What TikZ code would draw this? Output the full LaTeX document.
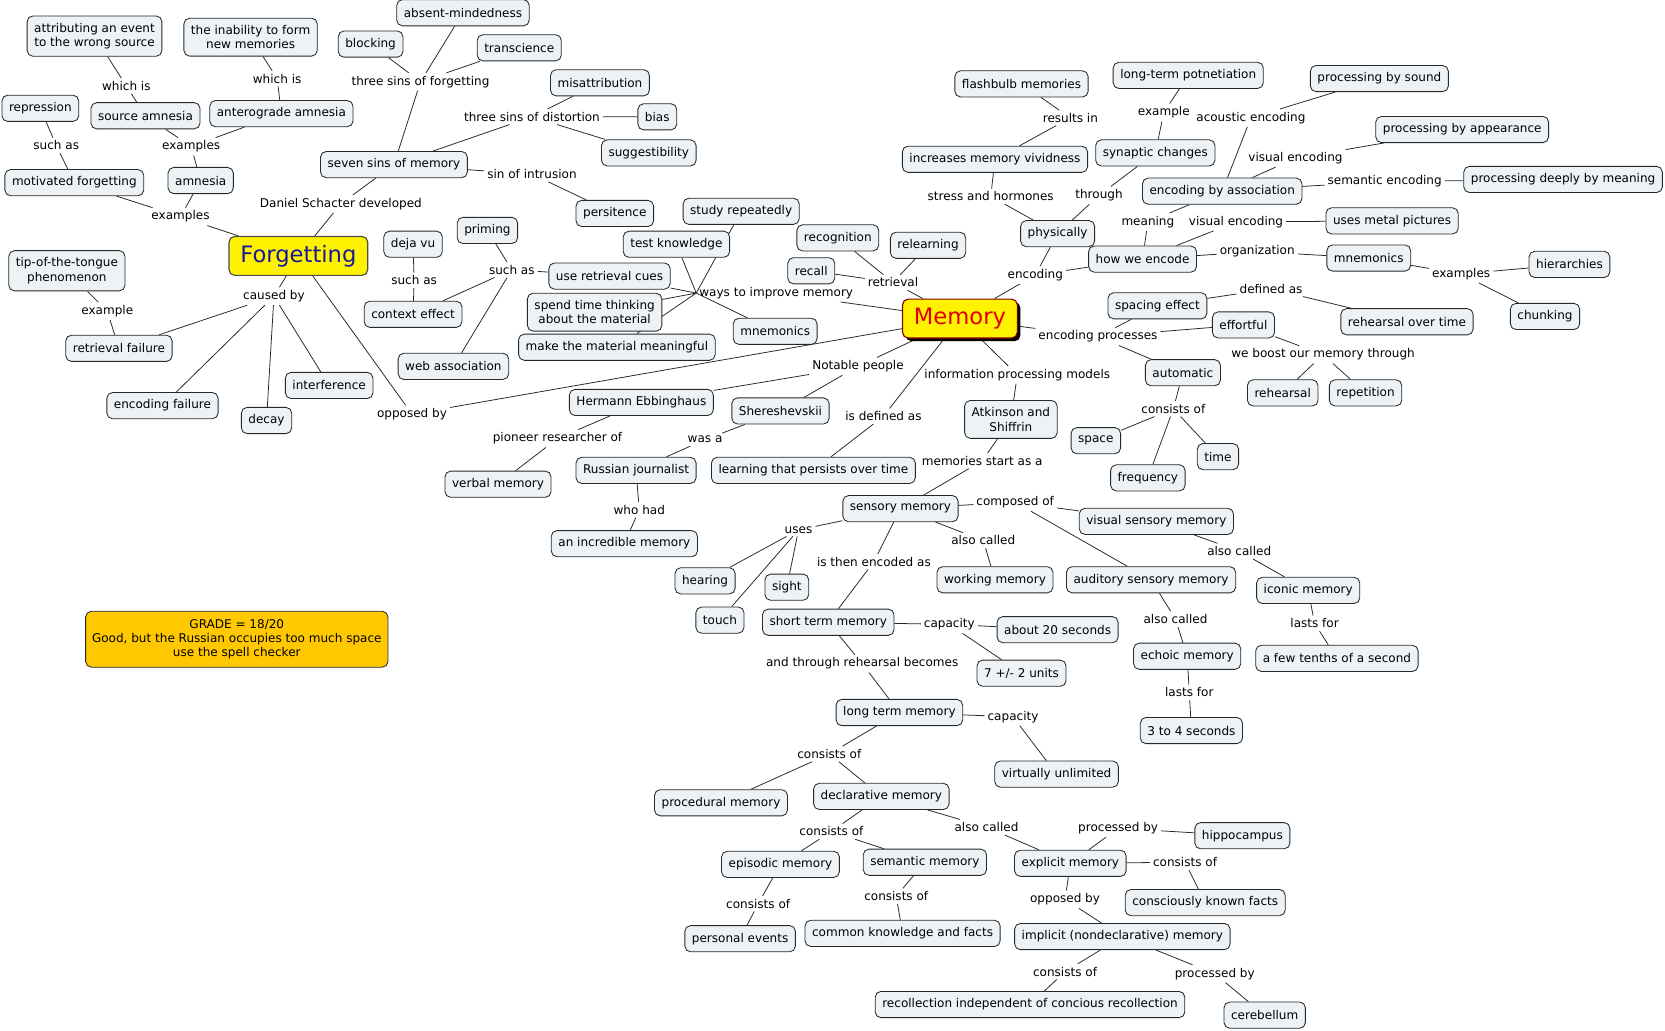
\documentclass[tikz,border=0pt]{standalone}
\usepackage{fontspec}
\setmainfont{DejaVu Sans}
\usetikzlibrary{backgrounds,shadows}

\definecolor{cmapfill}{RGB}{236,242,245}
\definecolor{cmapline}{RGB}{40,40,40}
\definecolor{memred}{RGB}{225,0,0}
\definecolor{memborder}{RGB}{130,0,0}
\definecolor{forgetblue}{RGB}{25,25,150}
\definecolor{gradefill}{RGB}{255,200,0}

\begin{document}
\begin{tikzpicture}[
    x=0.75pt, y=-0.75pt,
    concept/.style={rectangle, draw=cmapline, fill=cmapfill, rounded corners=4pt, line width=0.6pt, inner xsep=5pt, inner ysep=3pt, minimum height=18.5pt, align=center, font=\fontsize{8.5}{10.2}\selectfont},
    twoline/.style={concept, inner ysep=5pt},
    phrase/.style={inner sep=2pt, font=\fontsize{8.5}{10.2}\selectfont},
    topic/.style={rectangle, fill=yellow, rounded corners=4pt, line width=0.8pt, inner xsep=8pt, minimum height=27.5pt, font=\fontsize{16}{18}\selectfont},
    grade/.style={rectangle, draw=cmapline, fill=gradefill, rounded corners=4pt, line width=0.6pt, inner xsep=4.5pt, inner ysep=5.5pt, align=center, font=\fontsize{8.5}{10.2}\selectfont},
    link/.style={draw=cmapline, line width=0.55pt}
]
    \useasboundingbox (0,0) rectangle (1568,970);

    % Main topics
    \node[topic, draw=black!70, text=forgetblue] (forgetting) at (281,241) {Forgetting};
    \node[topic, draw=memborder, text=memred, drop shadow={shadow xshift=2.2pt, shadow yshift=-2.2pt, fill=black, opacity=1}] (memory) at (904,300) {Memory};

    % Forgetting side
    \node[twoline] (attrib) at (89,34) {attributing an event\\to the wrong source};
    \node[twoline] (inability) at (236,35) {the inability to form\\new memories};
    \node[concept] (absent) at (436,12) {absent-mindedness};
    \node[concept] (blocking) at (349,41.5) {blocking};
    \node[concept] (transcience) at (489,45) {transcience};
    \node[concept] (repression) at (38,102) {repression};
    \node[concept] (sourceam) at (137,109) {source amnesia};
    \node[concept] (anterograde) at (265,107) {anterograde amnesia};
    \node[concept] (misattribution) at (565,78) {misattribution};
    \node[concept] (bias) at (619,110) {bias};
    \node[concept] (suggestibility) at (611,144) {suggestibility};
    \node[concept] (seven) at (371,155) {seven sins of memory};
    \node[concept] (motivated) at (70,172) {motivated forgetting};
    \node[concept] (amnesia) at (189,170) {amnesia};
    \node[concept] (persitence) at (579,201) {persitence};
    \node[concept] (dejavu) at (389,230) {deja vu};
    \node[concept] (priming) at (459,217) {priming};
    \node[twoline] (tot) at (63,255) {tip-of-the-tongue\\phenomenon};
    \node[concept] (context) at (389,296) {context effect};
    \node[concept] (retrfail) at (112,328) {retrieval failure};
    \node[concept] (webassoc) at (427,345) {web association};
    \node[concept] (interference) at (310,363) {interference};
    \node[concept] (encfail) at (153,382) {encoding failure};
    \node[concept] (decay) at (251,396) {decay};
    \node[concept] (verbal) at (469,456) {verbal memory};
    \node[grade] (grade) at (223,602) {GRADE = 18/20\\Good, but the Russian occupies too much space\\use the spell checker};

    % Ways to improve memory, retrieval
    \node[concept] (studyrep) at (698,199) {study repeatedly};
    \node[concept] (testknow) at (637,230) {test knowledge};
    \node[concept] (useretr) at (574,260) {use retrieval cues};
    \node[twoline] (spend) at (560,294) {spend time thinking\\about the material};
    \node[concept] (makemean) at (581,327) {make the material meaningful};
    \node[concept] (mnemonicsA) at (730,312) {mnemonics};
    \node[concept] (recognition) at (789,224) {recognition};
    \node[concept] (relearning) at (874,231) {relearning};
    \node[concept] (recall) at (764,255) {recall};

    % Encoding side
    \node[concept] (flashbulb) at (962,79) {flashbulb memories};
    \node[concept] (ltp) at (1119,71) {long-term potnetiation};
    \node[concept] (procsound) at (1299,74) {processing by sound};
    \node[concept] (procapp) at (1377,122) {processing by appearance};
    \node[concept] (increases) at (937,150) {increases memory vividness};
    \node[concept] (synaptic) at (1088,144) {synaptic changes};
    \node[concept] (encassoc) at (1151,180) {encoding by association};
    \node[concept] (procdeep) at (1472,169) {processing deeply by meaning};
    \node[concept] (physically) at (996,220) {physically};
    \node[concept] (usesmetal) at (1311,208) {uses metal pictures};
    \node[concept] (howenc) at (1076,244) {how we encode};
    \node[concept] (mnemonicsB) at (1289,243) {mnemonics};
    \node[concept] (hierarchies) at (1478,249) {hierarchies};
    \node[concept] (spacing) at (1090,288) {spacing effect};
    \node[concept] (effortful) at (1171,306) {effortful};
    \node[concept] (rehearsalot) at (1325,303) {rehearsal over time};
    \node[concept] (chunking) at (1455,298) {chunking};
    \node[concept] (automatic) at (1114,351) {automatic};
    \node[concept] (rehearsal) at (1208,370) {rehearsal};
    \node[concept] (repetition) at (1286,370) {repetition};
    \node[concept] (space) at (1032,415) {space};
    \node[concept] (time) at (1147,430) {time};
    \node[concept] (frequency) at (1081,450) {frequency};

    % People, models, stores
    \node[concept] (hermann) at (604,379) {Hermann Ebbinghaus};
    \node[concept] (shereshevskii) at (735,387) {Shereshevskii};
    \node[twoline] (atkinson) at (952,395) {Atkinson and\\Shiffrin};
    \node[concept] (russian) at (599,443) {Russian journalist};
    \node[concept] (learning) at (766,443) {learning that persists over time};
    \node[concept] (incredible) at (588,512) {an incredible memory};
    \node[concept] (sensory) at (848,479) {sensory memory};
    \node[concept] (visualsens) at (1089,491) {visual sensory memory};
    \node[concept] (auditory) at (1084,546) {auditory sensory memory};
    \node[concept] (iconic) at (1232,556) {iconic memory};
    \node[concept] (working) at (937,546) {working memory};
    \node[concept] (hearing) at (664,547) {hearing};
    \node[concept] (sight) at (741,553) {sight};
    \node[concept] (touch) at (678,584) {touch};
    \node[concept] (shortterm) at (780,586) {short term memory};
    \node[concept] (about20) at (996,593) {about 20 seconds};
    \node[concept] (sevenunits) at (962,634) {7 +/- 2 units};
    \node[concept] (echoic) at (1118,618) {echoic memory};
    \node[concept] (fewtenths) at (1259,620) {a few tenths of a second};
    \node[concept] (longterm) at (847,671) {long term memory};
    \node[concept] (threefour) at (1122,688) {3 to 4 seconds};
    \node[concept] (virtually) at (995,729) {virtually unlimited};
    \node[concept] (procedural) at (679,756) {procedural memory};
    \node[concept] (declarative) at (830,750) {declarative memory};
    \node[concept] (hippocampus) at (1170,787) {hippocampus};
    \node[concept] (episodic) at (735,814) {episodic memory};
    \node[concept] (semantic) at (871,812) {semantic memory};
    \node[concept] (explicit) at (1008,813) {explicit memory};
    \node[concept] (conscious) at (1135,850) {consciously known facts};
    \node[concept] (personal) at (697,884) {personal events};
    \node[concept] (common) at (850,879) {common knowledge and facts};
    \node[concept] (implicit) at (1057,882) {implicit (nondeclarative) memory};
    \node[concept] (recollection) at (970,946) {recollection independent of concious recollection};
    \node[concept] (cerebellum) at (1191,956) {cerebellum};

    % Linking phrases
    \node[phrase] (lwhichA) at (119,81) {which is};
    \node[phrase] (lwhichB) at (261,74) {which is};
    \node[phrase] (lsinsforget) at (396,77) {three sins of forgetting};
    \node[phrase] (lsinsdistort) at (501,110) {three sins of distortion};
    \node[phrase] (lsuchasA) at (53,137) {such as};
    \node[phrase] (lexamplesA) at (180,138) {examples};
    \node[phrase] (lexamplesB) at (170,204) {examples};
    \node[phrase] (ldaniel) at (321,192) {Daniel Schacter developed};
    \node[phrase] (lintrusion) at (501,164) {sin of intrusion};
    \node[phrase] (lcaused) at (258,279) {caused by};
    \node[phrase] (lexampleA) at (101,293) {example};
    \node[phrase] (lsuchasB) at (390,264) {such as};
    \node[phrase] (lsuchasC) at (482,254) {such as};
    \node[phrase] (lopposedA) at (388,390) {opposed by};
    \node[phrase] (lpioneer) at (525,413) {pioneer researcher of};
    \node[phrase] (lways) at (731,276) {ways to improve memory};
    \node[phrase] (lretrieval) at (841,266) {retrieval};
    \node[phrase] (lencoding) at (975,259) {encoding};
    \node[phrase] (lstress) at (933,185) {stress and hormones};
    \node[phrase] (lresults) at (1008,111) {results in};
    \node[phrase] (lthrough) at (1035,184) {through};
    \node[phrase] (lexampleB) at (1096,106) {example};
    \node[phrase] (lacoustic) at (1178,111) {acoustic encoding};
    \node[phrase] (lvisualA) at (1220,149) {visual encoding};
    \node[phrase] (lsemantic) at (1304,171) {semantic encoding};
    \node[phrase] (lmeaning) at (1081,209) {meaning};
    \node[phrase] (lvisualB) at (1164,209) {visual encoding};
    \node[phrase] (lorganization) at (1184,237) {organization};
    \node[phrase] (lexamplesC) at (1376,258) {examples};
    \node[phrase] (ldefined) at (1197,272) {defined as};
    \node[phrase] (lencproc) at (1034,317) {encoding processes};
    \node[phrase] (lboost) at (1246,334) {we boost our memory through};
    \node[phrase] (lconsistsA) at (1105,385) {consists of};
    \node[phrase] (lnotable) at (808,345) {Notable people};
    \node[phrase] (linfo) at (958,353) {information processing models};
    \node[phrase] (lisdefined) at (832,392) {is defined as};
    \node[phrase] (lwasa) at (664,414) {was a};
    \node[phrase] (lwhohad) at (602,480) {who had};
    \node[phrase] (lstartas) at (925,434) {memories start as a};
    \node[phrase] (lcomposed) at (956,473) {composed of};
    \node[phrase] (luses) at (752,499) {uses};
    \node[phrase] (lalsoA) at (926,509) {also called};
    \node[phrase] (lencodedas) at (823,529) {is then encoded as};
    \node[phrase] (lalsoB) at (1167,519) {also called};
    \node[phrase] (llastsA) at (1238,587) {lasts for};
    \node[phrase] (lalsoC) at (1107,583) {also called};
    \node[phrase] (llastsB) at (1120,652) {lasts for};
    \node[phrase] (lcapacityA) at (894,588) {capacity};
    \node[phrase] (lthroughreh) at (812,625) {and through rehearsal becomes};
    \node[phrase] (lcapacityB) at (954,675) {capacity};
    \node[phrase] (lconsistsB) at (781,710) {consists of};
    \node[phrase] (lconsistsC) at (783,783) {consists of};
    \node[phrase] (lalsoD) at (929,779) {also called};
    \node[phrase] (lprocessedA) at (1053,780) {processed by};
    \node[phrase] (lconsistsD) at (1116,812) {consists of};
    \node[phrase] (lconsistsE) at (714,851) {consists of};
    \node[phrase] (lconsistsF) at (844,844) {consists of};
    \node[phrase] (lopposedB) at (1003,847) {opposed by};
    \node[phrase] (lconsistsG) at (1003,915) {consists of};
    \node[phrase] (lprocessedB) at (1144,917) {processed by};

    \begin{scope}[on background layer]
        % Forgetting side
        \draw[link] (attrib) -- (lwhichA) -- (sourceam);
        \draw[link] (inability) -- (lwhichB) -- (anterograde);
        \draw[link] (seven) -- (lsinsforget) (lsinsforget) -- (blocking) (lsinsforget) -- (absent) (lsinsforget) -- (transcience);
        \draw[link] (seven) -- (lsinsdistort) (lsinsdistort) -- (misattribution) (lsinsdistort) -- (bias) (lsinsdistort) -- (suggestibility);
        \draw[link] (seven) -- (lintrusion) -- (persitence);
        \draw[link] (motivated) -- (lsuchasA) -- (repression);
        \draw[link] (amnesia) -- (lexamplesA) (lexamplesA) -- (sourceam) (lexamplesA) -- (anterograde);
        \draw[link] (forgetting) -- (lexamplesB) (lexamplesB) -- (motivated) (lexamplesB) -- (amnesia);
        \draw[link] (forgetting) -- (ldaniel) -- (seven);
        \draw[link] (forgetting) -- (lcaused) (lcaused) -- (retrfail) (lcaused) -- (encfail) (lcaused) -- (decay) (lcaused) -- (interference);
        \draw[link] (retrfail) -- (lexampleA) -- (tot);
        \draw[link] (context) -- (lsuchasB) -- (dejavu);
        \draw[link] (useretr) -- (lsuchasC) (lsuchasC) -- (priming) (lsuchasC) -- (context) (lsuchasC) -- (webassoc);
        \draw[link] (forgetting) -- (lopposedA) -- (memory);

        % Retrieval and study
        \draw[link] (memory) -- (lways);
        \draw[link] (lways.west) -- (studyrep) (lways.west) -- (testknow) (lways.west) -- (useretr) (lways.west) -- (spend) (lways.west) -- (makemean) (lways.west) -- (mnemonicsA);
        \draw[link] (memory) -- (lretrieval) (lretrieval) -- (recall) (lretrieval) -- (recognition) (lretrieval) -- (relearning);

        % Encoding
        \draw[link] (memory) -- (lencoding) (lencoding) -- (physically) (lencoding) -- (howenc);
        \draw[link] (physically) -- (lstress) -- (increases);
        \draw[link] (increases) -- (lresults) -- (flashbulb);
        \draw[link] (physically) -- (lthrough) -- (synaptic);
        \draw[link] (synaptic) -- (lexampleB) -- (ltp);
        \draw[link] (howenc) -- (lmeaning) -- (encassoc);
        \draw[link] (encassoc) -- (lacoustic) -- (procsound);
        \draw[link] (encassoc) -- (lvisualA) -- (procapp);
        \draw[link] (encassoc) -- (lsemantic) -- (procdeep);
        \draw[link] (howenc) -- (lvisualB) -- (usesmetal);
        \draw[link] (howenc) -- (lorganization) -- (mnemonicsB);
        \draw[link] (mnemonicsB) -- (lexamplesC) (lexamplesC) -- (hierarchies) (lexamplesC) -- (chunking);
        \draw[link] (spacing) -- (ldefined) -- (rehearsalot);
        \draw[link] (memory) -- (lencproc) (lencproc) -- (spacing) (lencproc) -- (effortful) (lencproc) -- (automatic);
        \draw[link] (effortful) -- (lboost) (lboost) -- (rehearsal) (lboost) -- (repetition);
        \draw[link] (automatic) -- (lconsistsA) (lconsistsA) -- (space) (lconsistsA) -- (frequency) (lconsistsA) -- (time);

        % People and definition
        \draw[link] (memory) -- (lnotable) (lnotable) -- (hermann) (lnotable) -- (shereshevskii);
        \draw[link] (hermann) -- (lpioneer) -- (verbal);
        \draw[link] (shereshevskii) -- (lwasa) -- (russian);
        \draw[link] (russian) -- (lwhohad) -- (incredible);
        \draw[link] (memory) -- (lisdefined) -- (learning);

        % Information processing model
        \draw[link] (memory) -- (linfo) -- (atkinson);
        \draw[link] (atkinson) -- (lstartas) -- (sensory);
        \draw[link] (sensory) -- (lcomposed) (lcomposed) -- (visualsens) (lcomposed) -- (auditory);
        \draw[link] (sensory) -- (luses) (luses) -- (hearing) (luses) -- (touch) (luses) -- (sight);
        \draw[link] (sensory) -- (lalsoA) -- (working);
        \draw[link] (sensory) -- (lencodedas) -- (shortterm);
        \draw[link] (visualsens) -- (lalsoB) -- (iconic);
        \draw[link] (iconic) -- (llastsA) -- (fewtenths);
        \draw[link] (auditory) -- (lalsoC) -- (echoic);
        \draw[link] (echoic) -- (llastsB) -- (threefour);
        \draw[link] (shortterm) -- (lcapacityA) (lcapacityA) -- (about20) (lcapacityA) -- (sevenunits);
        \draw[link] (shortterm) -- (lthroughreh) -- (longterm);
        \draw[link] (longterm) -- (lcapacityB) -- (virtually);
        \draw[link] (longterm) -- (lconsistsB) (lconsistsB) -- (procedural) (lconsistsB) -- (declarative);
        \draw[link] (declarative) -- (lconsistsC) (lconsistsC) -- (episodic) (lconsistsC) -- (semantic);
        \draw[link] (declarative) -- (lalsoD) -- (explicit);
        \draw[link] (episodic) -- (lconsistsE) -- (personal);
        \draw[link] (semantic) -- (lconsistsF) -- (common);
        \draw[link] (explicit) -- (lprocessedA) -- (hippocampus);
        \draw[link] (explicit) -- (lconsistsD) -- (conscious);
        \draw[link] (explicit) -- (lopposedB) -- (implicit);
        \draw[link] (implicit) -- (lconsistsG) -- (recollection);
        \draw[link] (implicit) -- (lprocessedB) -- (cerebellum);
    \end{scope}
\end{tikzpicture}
\end{document}
